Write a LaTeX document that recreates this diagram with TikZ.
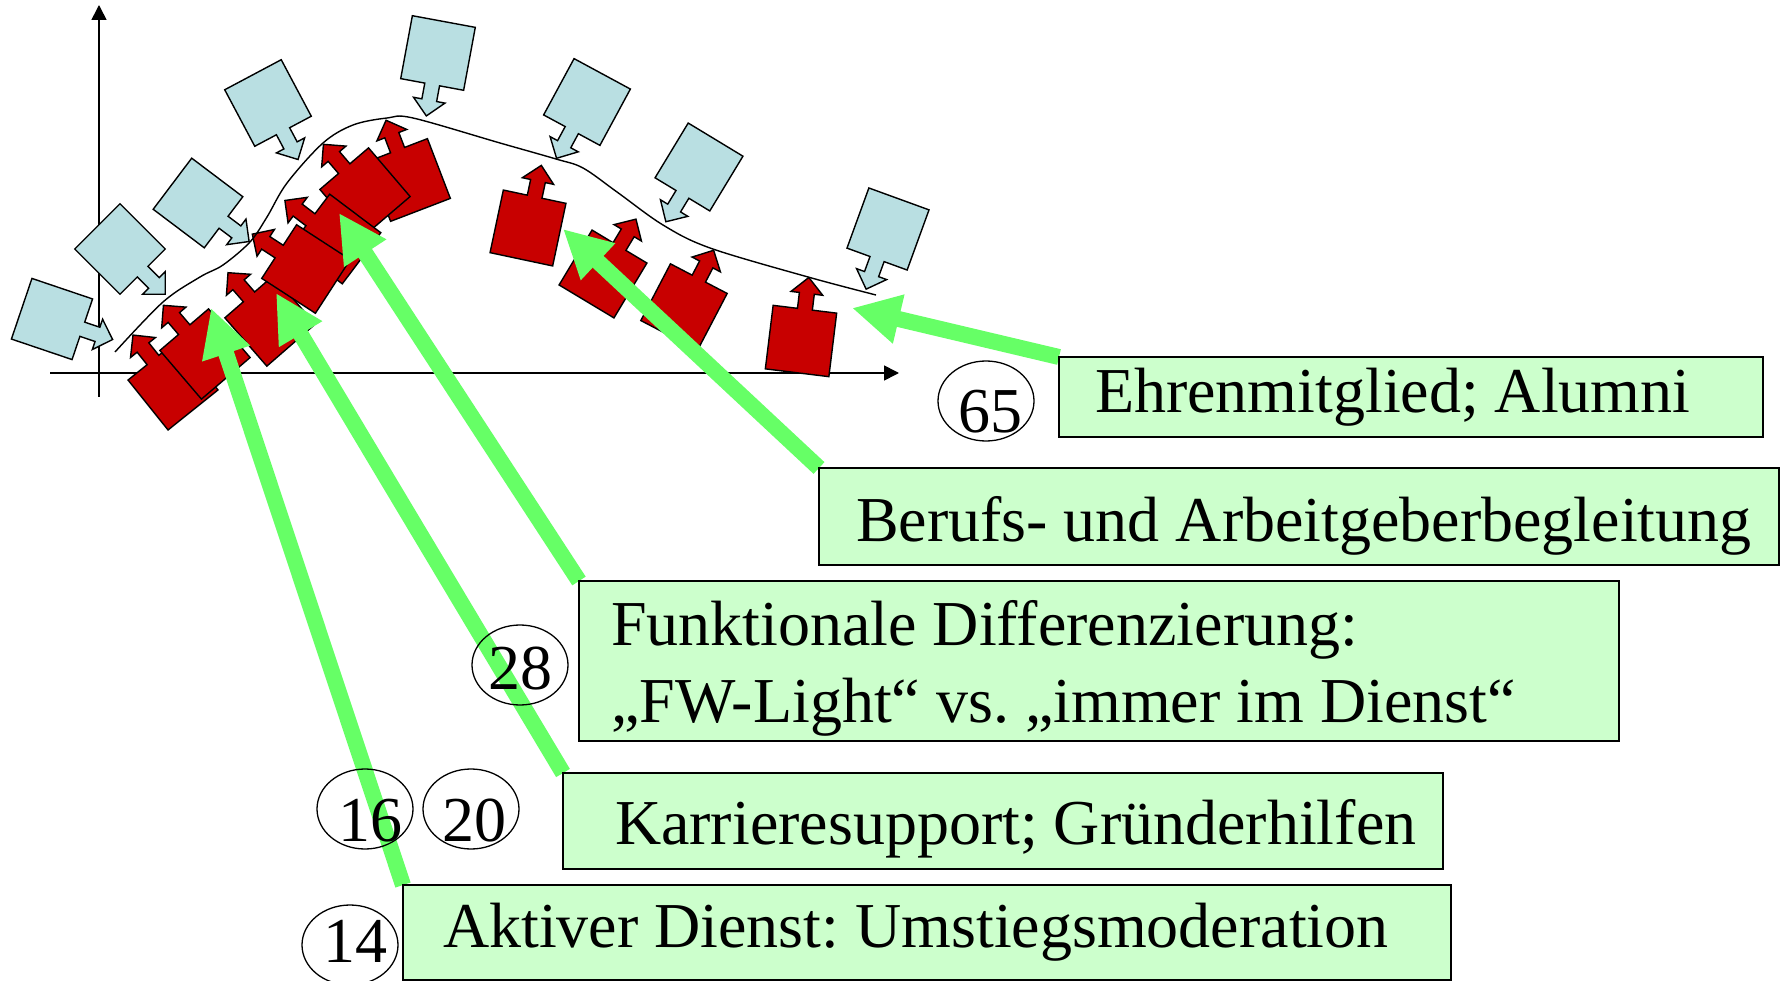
\documentclass[tikz,border=0pt]{standalone}
\usepackage{fontspec}
\setmainfont{Liberation Serif}
\usetikzlibrary{arrows.meta,shapes.geometric}
\definecolor{boxgreen}{HTML}{CCFFCC}
\definecolor{arrowgreen}{HTML}{66FF66}
\definecolor{pale}{HTML}{B9DFE2}
\definecolor{darkred}{HTML}{C80000}
\tikzset{
  redshape/.style={fill=darkred,draw=black,line width=1.4pt,line join=miter},
  blueshape/.style={fill=pale,draw=black,line width=1.4pt,line join=miter},
  axisline/.style={line width=1.6pt,-{Triangle[length=15pt,width=15pt]}},
  greenarrow/.style={draw=arrowgreen,line width=16pt,-{Triangle[length=48pt,width=47pt]}},
  labelbox/.style={draw=black,fill=boxgreen,line width=1.6pt,inner sep=0pt,outer sep=0pt,anchor=north west},
  numring/.style={draw=black,fill=none,ellipse,line width=1.3pt,inner sep=0pt,minimum width=96pt,minimum height=80pt},
  bigtext/.style={font=\fontsize{64}{64}\selectfont\frenchspacing}
}
\newcommand{\callout}[4]{%
  \begin{scope}[shift={(#1,#2)},rotate=#3]
    \draw[#4] (-32,-32) -- (-7.5,-32) -- (-7.5,-48) -- (-16,-48) -- (0,-64) -- (16,-48) -- (7.5,-48) -- (7.5,-32) -- (32,-32) -- (32,32) -- (-32,32) -- cycle;
  \end{scope}}
\newcommand{\oneline}[5]{\hbox to #1pt{\rule[-#3pt]{0pt}{\dimexpr#2pt+#3pt\relax}\hspace*{#4pt}#5\hss}}
\newcommand{\ringnum}[3]{\raisebox{-#2pt}[0pt][0pt]{\kern#1pt\makebox[0pt]{#3}}}
\begin{document}
\begin{tikzpicture}[x=1pt,y=-1pt,bigtext]
\useasboundingbox (0,0) rectangle (1783,981);
% axes
\coordinate (yb) at (99,397); \coordinate (yt) at (99,5);
\coordinate (xl) at (50,373); \coordinate (xr) at (899,373);
\draw[axisline] (yb) -- (yt);
\draw[axisline] (xl) -- (xr);
% red shapes
\callout{173}{385}{38.7}{redshape}
\callout{205}{354}{40.5}{redshape}
\callout{270}{321}{41}{redshape}
\callout{409}{180}{21}{redshape}
\callout{365}{193}{40.5}{redshape}
\callout{336}{239}{53}{redshape}
\callout{306}{269}{57}{redshape}
\callout{528}{228}{-12}{redshape}
\callout{603}{274}{-31}{redshape}
\callout{684}{307}{-27.6}{redshape}
\callout{801}{341}{-7}{redshape}
% pale shapes
\callout{52}{319}{-108.7}{blueshape}
\callout{120}{249}{-135}{blueshape}
\callout{198}{203}{-127}{blueshape}
\callout{268}{103}{-152}{blueshape}
\callout{438}{53}{169.5}{blueshape}
\callout{587}{102}{151.6}{blueshape}
\callout{699}{167}{148.8}{blueshape}
\callout{888}{229}{160}{blueshape}
% curve
\draw[line width=1.4pt] plot[smooth,tension=.55] coordinates {(115,352) (163,302) (200,277) (223,265) (250,242) (267,217) (287,183) (323,143) (353,125) (387,118) (413,118) (500,143) (556,159) (583,168) (617,192) (663,225) (710,248) (808,277) (876,295)};
% arrow targets
\coordinate (t1) at (211,308);
\coordinate (t2) at (276,293);
\coordinate (t3) at (339,213);
\coordinate (t4) at (563,229);
\coordinate (t5) at (852,308);
% green arrows first, boxes over them
\coordinate (s1) at (403,885);
\coordinate (s2) at (563,773);
\coordinate (s3) at (579,581);
\coordinate (s4) at (819,468);
\coordinate (s5) at (1059,357);
\draw[greenarrow] (s1) -- (t1);
\draw[greenarrow] (s2) -- (t2);
\draw[greenarrow] (s3) -- (t3);
\draw[greenarrow] (s4) -- (t4);
\draw[greenarrow] (s5) -- (t5);
% boxes
\node[labelbox] (ehren) at (s5) {\oneline{704}{56}{24}{36}{Ehrenmitglied; Alumni}};
\node[labelbox] (berufs) at (s4) {\oneline{960}{73}{24}{37}{Berufs- und Arbeitgeberbegleitung}};
\node[labelbox] (funk) at (s3) {\vbox{\offinterlineskip
  \oneline{1040}{64}{14}{32}{Funktionale Differenzierung:}
  \oneline{1040}{63}{19}{32}{„FW-Light“ vs. „immer im Dienst“}}};
\node[labelbox] (karr) at (s2) {\oneline{880}{71}{25}{52}{Karrieresupport; Gründerhilfen}};
\node[labelbox] (akt) at (s1) {\oneline{1048}{62}{33}{40}{Aktiver Dienst: Umstiegsmoderation}};
% numbers
\node[numring] (n65) at (986,401) {\ringnum{8}{32}{65}};
\node[numring] (n28) at (520,665) {\ringnum{0}{24}{28}};
\node[numring] (n16) at (365,809) {\ringnum{10}{32}{16}};
\node[numring] (n20) at (471,809) {\ringnum{6}{32}{20}};
\node[numring] (n14) at (350,945) {\ringnum{10}{17}{14}};
\end{tikzpicture}
\end{document}
